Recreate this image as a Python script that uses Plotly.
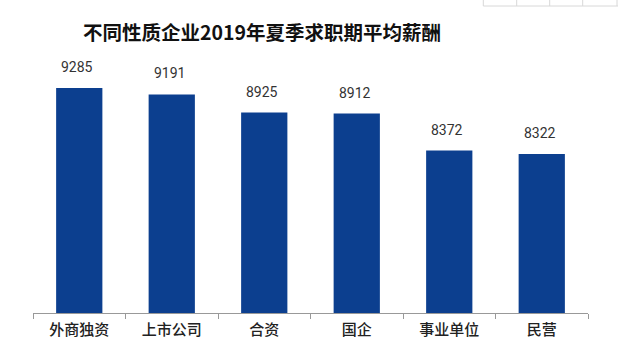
import plotly.graph_objects as go

categories = ["外商独资", "上市公司", "合资", "国企", "事业单位", "民营"]
salaries = [9285, 9191, 8925, 8912, 8372, 8322]
title_text = "不同性质企业2019年夏季求职期平均薪酬"

W, H = 618, 340
ML, MR, MT, MB = 33, 30, 40, 27
plot_w = W - ML - MR
plot_h = H - MT - MB

fig = go.Figure()
fig.add_trace(go.Bar(
    x=categories, y=salaries,
    marker=dict(color="#0c3f8f", line=dict(width=0)),
    width=0.5,
    hoverinfo="x+y",
))

for c, v in zip(categories, salaries):
    fig.add_annotation(
        x=c, y=v, text=str(v), showarrow=False,
        yanchor="bottom", yshift=11, xshift=-2,
        font=dict(family="Roboto, Noto Sans, sans-serif", size=14, color="#333333"),
    )

# faint grid artifact at top-right of the source image
def px_x(x):
    return (x - ML) / plot_w

def px_y(y):
    return (H - MB - y) / plot_h

for gx in [483.3, 516.7, 549.7, 582.7, 617]:
    fig.add_shape(type="line", xref="paper", yref="paper",
                  x0=px_x(gx), x1=px_x(gx), y0=px_y(0), y1=px_y(6),
                  line=dict(color="#d8d8d8", width=1))
fig.add_shape(type="line", xref="paper", yref="paper",
              x0=px_x(483.3), x1=px_x(618), y0=px_y(6), y1=px_y(6),
              line=dict(color="#d8d8d8", width=1))

fig.update_layout(
    width=W, height=H,
    margin=dict(l=ML, r=MR, t=MT, b=MB, pad=0),
    paper_bgcolor="white", plot_bgcolor="white",
    showlegend=False,
    title=dict(
        text="<b>" + title_text + "</b>",
        x=262 / W, xanchor="center", y=1 - 33 / H, yanchor="middle",
        xref="container", yref="container",
        font=dict(family="Noto Sans CJK SC", size=19.5, color="#111111"),
    ),
    xaxis=dict(
        type="category", automargin=False,
        showline=True, linecolor="#999999", linewidth=1,
        ticks="outside", tickson="boundaries", ticklen=5, tickcolor="#999999",
        ticklabelstandoff=3,
        tickfont=dict(family="Noto Sans CJK SC", size=15, color="#222222", weight=500),
        showgrid=False, zeroline=False,
    ),
    yaxis=dict(
        range=[6000, 9985], visible=False, showgrid=False, zeroline=False,
        automargin=False,
    ),
    bargap=0.5,
)

fig.write_html("out.html")
